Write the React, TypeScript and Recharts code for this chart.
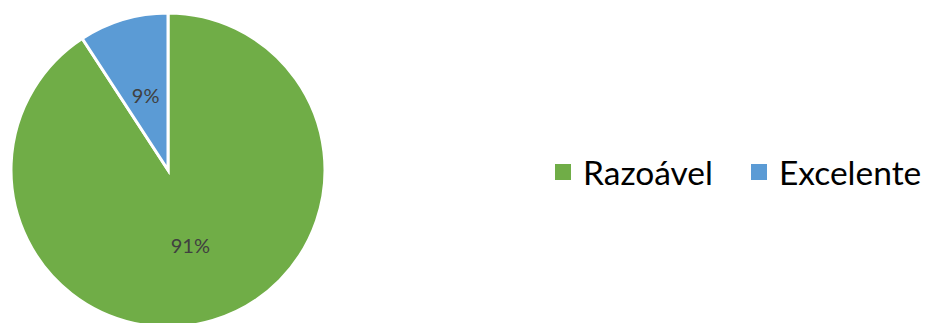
import { PieChart, Pie, Cell, Legend } from 'recharts'

const categories = ['Razoável', 'Excelente']
const shares = [90.8, 9.2]
const pctLabels = ['91%', '9%']
const COLORS = ['#70AD47', '#5B9BD5']

const data = categories.map((name, i) => ({ name, value: shares[i], label: pctLabels[i] }))

const RAD = Math.PI / 180

const renderLabel = ({ cx, cy, midAngle, outerRadius, index }: any) => {
  const r = outerRadius * 0.5
  const x = cx + r * Math.cos(-midAngle * RAD)
  const y = cy + r * Math.sin(-midAngle * RAD)
  return (
    <text
      x={x}
      y={y}
      fill="#404040"
      fontSize={20}
      fontFamily="Lato, 'Open Sans', sans-serif"
      textAnchor="middle"
      dominantBaseline="central"
    >
      {data[index].label}
    </text>
  )
}

const LegendContent = () => (
  <div style={{ display: 'flex', alignItems: 'center', fontFamily: "Lato, 'Open Sans', sans-serif" }}>
    {data.map((d, i) => (
      <div key={d.name} style={{ display: 'flex', alignItems: 'center', marginRight: i === 0 ? 38 : 0 }}>
        <span style={{ width: 16, height: 16, background: COLORS[i], display: 'inline-block', marginRight: 12 }} />
        <span style={{ fontSize: 33.5, color: '#000', lineHeight: '36px' }}>{d.name}</span>
      </div>
    ))}
  </div>
)

export default function App() {
  return (
    <div style={{ position: 'absolute', left: 0, top: 0, width: 931, height: 323, background: '#fff' }}>
      <PieChart width={931} height={323} margin={{ top: 0, right: 0, bottom: 0, left: 0 }}>
        <Pie
          data={data}
          dataKey="value"
          nameKey="name"
          cx={168}
          cy={170}
          outerRadius={157}
          startAngle={90}
          endAngle={-270}
          stroke="#fff"
          strokeWidth={3}
          label={renderLabel}
          labelLine={false}
          isAnimationActive={false}
        >
          {data.map((d, i) => (
            <Cell key={d.name} fill={COLORS[i]} />
          ))}
        </Pie>
        <Legend
          content={<LegendContent />}
          wrapperStyle={{ position: 'absolute', left: 555, top: 154, width: 380 }}
        />
      </PieChart>
    </div>
  )
}
